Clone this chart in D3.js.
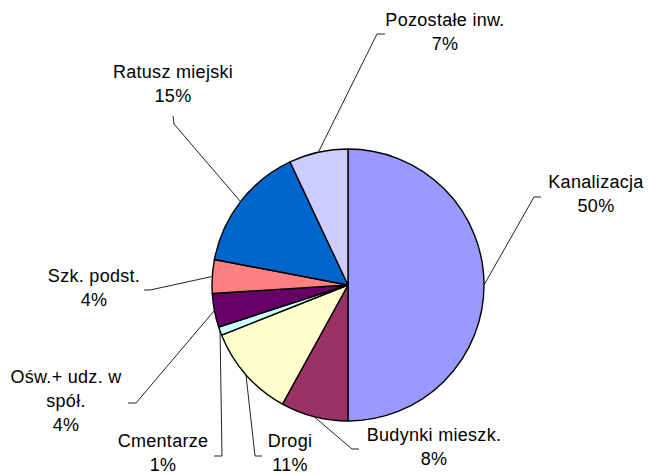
<!DOCTYPE html>
<html>
  <head>
    <meta charset="utf-8" />
    <title>pie</title>
    <script src="https://cdn.jsdelivr.net/npm/d3@7"></script>
    <style type="text/css">
      body { margin: 0; background: #fff; }
      text { font-family: Arial, "Liberation Sans", sans-serif; font-size: 18px; fill: #000; letter-spacing: 0.3px; }
    </style>
  </head>
  <body>
    <svg id="chart" width="650" height="475"></svg>
    <script type="text/javascript">
      // dane
      var categories = ['Kanalizacja', 'Budynki mieszk.', 'Drogi', 'Cmentarze',
        'Ośw.+ udz. w spół.', 'Szk. podst.', 'Ratusz miejski', 'Pozostałe inw.'];
      var values = [50, 8, 11, 1, 4, 4, 15, 7];
      var labelLines = [
        ['Kanalizacja', '50%'],
        ['Budynki mieszk.', '8%'],
        ['Drogi', '11%'],
        ['Cmentarze', '1%'],
        ['Ośw.+ udz. w', 'spół.', '4%'],
        ['Szk. podst.', '4%'],
        ['Ratusz miejski', '15%'],
        ['Pozostałe inw.', '7%']
      ];
      var colors = ['#9999FF', '#993366', '#FFFFCC', '#CCFFFF', '#660066', '#FF8080', '#0066CC', '#CCCCFF'];

      // uklad etykiet (recznie, jak w Excelu): lokiec linii, koniec linii, srodek tekstu, baseline 1. linii
      var layout = [
        { elbow: [534, 197], end: [541, 197], tx: 596, ty: 188 },
        { elbow: [352, 449], end: [359, 449], tx: 434, ty: 441 },
        { elbow: [255, 456], end: [262, 456], tx: 290, ty: 447 },
        { elbow: [222, 456], end: [214, 456], tx: 163, ty: 447 },
        { elbow: [136, 403], end: [128, 403], tx: 66, ty: 383 },
        { elbow: [150, 290], end: [144, 290], tx: 94, ty: 282 },
        { elbow: [174, 124], end: [173, 116], tx: 173, ty: 78 },
        { elbow: [377, 34], end: [385, 34], tx: 445, ty: 26 }
      ];

      var cx = 348, cy = 285, r = 136;
      var svg = d3.select('#chart');
      var g = svg.append('g').attr('transform', 'translate(' + cx + ',' + cy + ')');

      var pie = d3.pie().sort(null).value((d) => d);
      var arcs = pie(values);
      var arc = d3.arc().innerRadius(0).outerRadius(r);

      g.selectAll('path.slice')
        .data(arcs)
        .enter()
        .append('path')
        .attr('class', 'slice')
        .attr('d', arc)
        .attr('fill', (d, i) => colors[i])
        .attr('stroke', '#000')
        .attr('stroke-width', 1.4)
        .attr('stroke-linejoin', 'round');

      // linie odniesienia
      svg.selectAll('polyline.leader')
        .data(arcs)
        .enter()
        .append('polyline')
        .attr('class', 'leader')
        .attr('fill', 'none')
        .attr('stroke', '#222')
        .attr('stroke-width', 1)
        .attr('points', function (d, i) {
          var a = (d.startAngle + d.endAngle) / 2;
          var sx = cx + r * Math.sin(a), sy = cy - r * Math.cos(a);
          var L = layout[i];
          return [[sx, sy], L.elbow, L.end].map((p) => p.join(',')).join(' ');
        });

      // etykiety
      var lbl = svg.selectAll('text.lbl')
        .data(arcs)
        .enter()
        .append('text')
        .attr('class', 'lbl')
        .attr('text-anchor', 'middle');

      lbl.each(function (d, i) {
        var t = d3.select(this);
        labelLines[i].forEach(function (s, k) {
          t.append('tspan')
            .attr('x', layout[i].tx)
            .attr('y', layout[i].ty + k * 24)
            .text(s);
        });
      });
    </script>
  </body>
</html>
